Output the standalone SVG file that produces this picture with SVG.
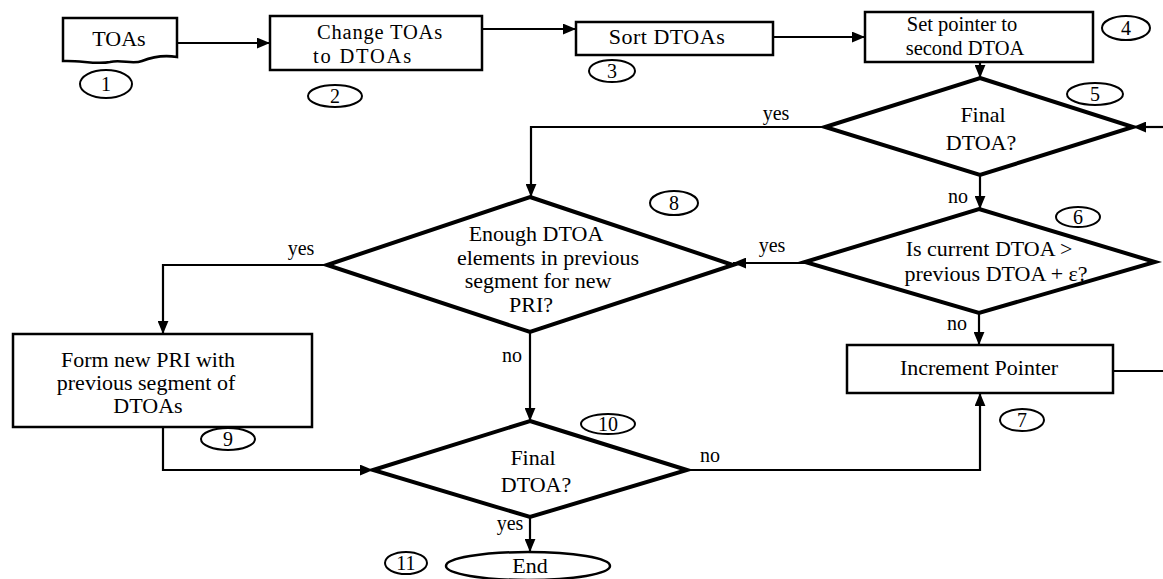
<svg xmlns="http://www.w3.org/2000/svg" width="1163" height="579" viewBox="0 0 1163 579">
<style>
text{font-family:Liberation Serif, Times New Roman, Times, Tinos, Noto Serif, DejaVu Serif, FreeSerif, serif;font-size:22px;fill:#000;text-anchor:middle}
.box{fill:#fff;stroke:#000;stroke-width:2.5}
.dia{fill:#fff;stroke:#000;stroke-width:4;stroke-linejoin:miter}
.num{fill:none;stroke:#000;stroke-width:2}
.num-t{font-size:20px}
.lbl{font-size:20px}
.sm{font-size:20.5px}
.con{fill:none;stroke:#000;stroke-width:2.2}
</style>
<defs>
<marker id="ah" viewBox="0 0 12 10" refX="12" refY="5" markerWidth="13" markerHeight="11" markerUnits="userSpaceOnUse" orient="auto">
<path d="M0,0 L12,5 L0,10 z" fill="#000"/>
</marker>
</defs>
<rect width="1163" height="579" fill="#fff"/>

<g id="connectors">
<path class="con" d="M177,43 H270" marker-end="url(#ah)"/>
<path class="con" d="M482,29 H576" marker-end="url(#ah)"/>
<path class="con" d="M773,37 H865" marker-end="url(#ah)"/>
<path class="con" d="M980,62 V78" marker-end="url(#ah)"/>
<path class="con" d="M1163,127 H1133" marker-end="url(#ah)"/>
<path class="con" d="M825,127 H531 V197" marker-end="url(#ah)"/>
<path class="con" d="M980,175 V209" marker-end="url(#ah)"/>
<path class="con" d="M805,263 H733" marker-end="url(#ah)"/>
<path class="con" d="M327,265 H163 V334" marker-end="url(#ah)"/>
<path class="con" d="M530,332 V421" marker-end="url(#ah)"/>
<path class="con" d="M163,427 V470 H373" marker-end="url(#ah)"/>
<path class="con" d="M979,313 V345" marker-end="url(#ah)"/>
<path class="con" d="M687,470 H980 V393" marker-end="url(#ah)"/>
<path class="con" d="M1113,371 H1163"/>
<path class="con" d="M530,517 V552" marker-end="url(#ah)"/>
<text class="lbl" x="776" y="120">yes</text>
<text class="lbl" x="958" y="203">no</text>
<text class="lbl" x="772" y="252">yes</text>
<text class="lbl" x="301" y="255">yes</text>
<text class="lbl" x="512" y="362">no</text>
<text class="lbl" x="957" y="330">no</text>
<text class="lbl" x="710" y="462">no</text>
<text class="lbl" x="510" y="530">yes</text>
</g>

<g id="n1">
<path class="box" d="M63,18 H177 V57 C165,55 152,57 142,61 C132,65 122,59 110,62 C96,65 80,60 63,61 Z"/>
<text x="119" y="46">TOAs</text>
<ellipse class="num" cx="106" cy="84" rx="26" ry="14"/>
<text class="num-t" x="106" y="91">1</text>
</g>

<g id="n2">
<rect class="box" x="270" y="16" width="212" height="54"/>
<text class="sm" x="380" y="39" letter-spacing="0.8">Change TOAs</text>
<text class="sm" x="363" y="63" letter-spacing="1.8">to DTOAs</text>
<ellipse class="num" cx="335" cy="96" rx="27" ry="11"/>
<text class="num-t" x="335" y="103">2</text>
</g>

<g id="n3">
<rect class="box" x="576" y="22" width="197" height="33"/>
<text x="667" y="44" letter-spacing="0.5">Sort DTOAs</text>
<ellipse class="num" cx="612" cy="71" rx="23" ry="11"/>
<text class="num-t" x="612" y="78">3</text>
</g>

<g id="n4">
<rect class="box" x="865" y="12" width="228" height="50"/>
<text class="sm" x="962" y="31">Set pointer to</text>
<text class="sm" x="965" y="55">second DTOA</text>
<ellipse class="num" cx="1126" cy="28" rx="24" ry="12"/>
<text class="num-t" x="1126" y="35">4</text>
</g>

<g id="n5">
<polygon class="dia" points="980,78 1133,127 980,175 825,127"/>
<text x="983" y="122">Final</text>
<text x="981" y="150">DTOA?</text>
<ellipse class="num" cx="1095" cy="94" rx="28" ry="11"/>
<text class="num-t" x="1095" y="101">5</text>
</g>

<g id="n6">
<polygon class="dia" points="979,209 1155,262 979,313 805,262"/>
<text x="989" y="256">Is current DTOA &gt;</text>
<text x="996" y="281">previous DTOA + ε?</text>
<ellipse class="num" cx="1078" cy="217" rx="22" ry="10"/>
<text class="num-t" x="1078" y="224">6</text>
</g>

<g id="n7">
<rect class="box" x="847" y="345" width="266" height="48"/>
<text x="979" y="375">Increment Pointer</text>
<ellipse class="num" cx="1022" cy="420" rx="22" ry="11"/>
<text class="num-t" x="1022" y="427">7</text>
</g>

<g id="n8">
<polygon class="dia" points="530,197 733,265 530,332 327,265"/>
<text x="536" y="241">Enough DTOA</text>
<text x="548" y="265">elements in previous</text>
<text x="538" y="288">segment for new</text>
<text x="531" y="312">PRI?</text>
<ellipse class="num" cx="674" cy="203" rx="24" ry="12"/>
<text class="num-t" x="674" y="210">8</text>
</g>

<g id="n9">
<rect class="box" x="13" y="334" width="299" height="93"/>
<text x="148" y="367">Form new PRI with</text>
<text x="146" y="390">previous segment of</text>
<text x="148" y="413">DTOAs</text>
<ellipse class="num" cx="228" cy="439" rx="27" ry="11"/>
<text class="num-t" x="228" y="446">9</text>
</g>

<g id="n10">
<polygon class="dia" points="530,421 687,470 530,517 373,470"/>
<text x="533" y="465">Final</text>
<text x="536" y="492">DTOA?</text>
<ellipse class="num" cx="608" cy="424" rx="27" ry="10"/>
<text class="num-t" x="608" y="431">10</text>
</g>

<g id="n11">
<ellipse class="num" cx="406" cy="563" rx="21" ry="11"/>
<text class="num-t" x="406" y="570">11</text>
<ellipse class="box" cx="528" cy="566" rx="82" ry="14"/>
<text x="530" y="573">End</text>
</g>
</svg>
